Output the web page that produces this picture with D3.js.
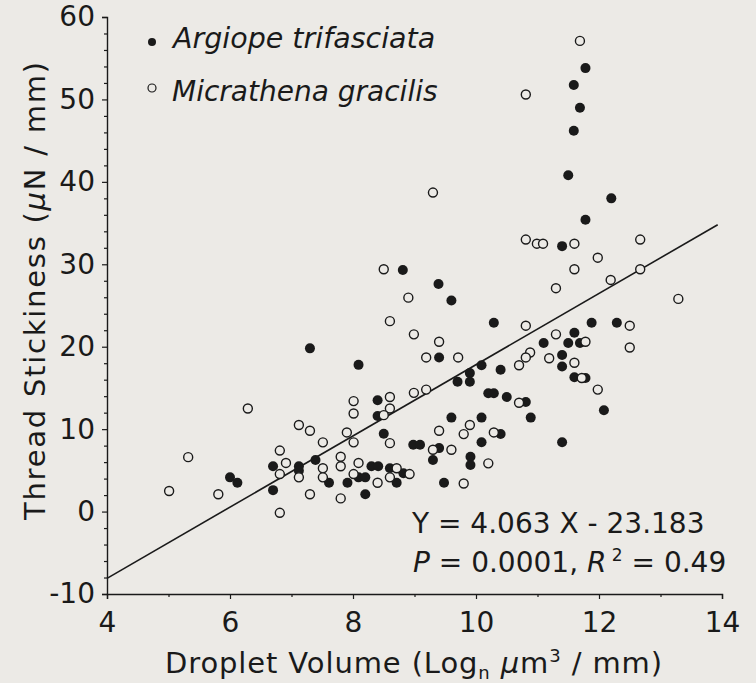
<!DOCTYPE html>
<html>
<head>
<meta charset="utf-8">
<script src="https://cdn.jsdelivr.net/npm/d3@7"></script>
<style>
  html, body { margin: 0; padding: 0; background: #eceae6; }
  svg { display: block; }
  text { font-family: "DejaVu Sans", sans-serif; fill: #1a1a1a; }
</style>
</head>
<body>
<svg id="chart" width="756" height="683"></svg>
<script>
// ---- Data ----
const argiope = [
  [11.78,53.8],[11.59,51.75],[11.69,49.0],[11.59,46.2],[11.50,40.8],[12.20,38.0],[11.78,35.4],
  [9.39,27.6],[9.60,25.6],[11.40,32.2],[8.81,29.3],[10.29,22.9],[11.88,22.9],[12.29,22.9],
  [11.60,21.7],[11.10,20.45],[11.50,20.45],[11.69,20.45],[9.40,18.7],[11.40,19.0],[11.40,17.6],
  [10.09,17.75],[9.90,16.8],[9.90,15.75],[9.70,15.75],[10.40,17.2],[11.60,16.3],[11.78,16.2],
  [12.08,12.3],[10.20,14.35],[10.29,14.35],[10.50,13.9],[10.81,13.3],[9.60,11.4],[10.09,11.4],
  [10.89,11.4],[10.40,9.4],[10.09,8.4],[11.40,8.4],[7.30,19.8],[8.09,17.8],[8.40,13.5],
  [8.40,11.6],[8.50,9.45],[8.98,8.1],[9.09,8.1],[9.40,7.7],[6.00,4.15],[6.12,3.5],[6.70,5.5],
  [6.70,2.6],[7.12,5.5],[7.12,4.95],[7.39,6.25],[7.61,3.5],[7.91,3.5],[8.09,4.15],[8.20,4.15],
  [8.20,2.1],[8.30,5.5],[8.41,5.5],[8.60,5.25],[8.71,3.5],[8.82,4.65],[9.30,6.25],[9.48,3.5],
  [9.91,6.65],[9.91,5.65]
];
const micrathena = [
  [11.69,57.1],[10.81,50.6],[9.30,38.7],[10.81,33.0],[10.99,32.5],[11.09,32.5],[11.60,32.5],
  [12.67,33.0],[11.98,30.8],[11.60,29.4],[12.67,29.4],[12.19,28.1],[11.30,27.1],[13.29,25.8],
  [10.81,22.55],[12.50,22.55],[11.30,21.5],[11.78,20.6],[12.50,19.9],[9.40,20.6],[9.71,18.7],
  [10.88,19.3],[10.81,18.7],[10.70,17.75],[11.19,18.6],[11.60,18.05],[11.72,16.2],[11.98,14.8],
  [10.70,13.2],[9.90,10.5],[9.80,9.4],[9.40,9.8],[10.29,9.6],[9.60,7.5],[8.50,29.4],[8.90,25.95],
  [8.60,23.1],[8.99,21.5],[9.19,18.7],[6.29,12.5],[8.01,13.4],[8.01,11.9],[8.60,13.9],[8.60,12.5],
  [8.50,11.7],[8.99,14.4],[9.19,14.8],[7.12,10.5],[7.30,9.8],[7.51,8.4],[7.90,9.6],[8.01,8.4],
  [8.60,8.3],[9.30,7.5],[6.81,7.4],[5.32,6.6],[5.01,2.5],[5.81,2.1],[6.91,5.9],[6.81,4.55],
  [6.81,-0.15],[7.12,4.15],[7.30,2.1],[7.51,5.25],[7.51,4.15],[7.80,6.65],[7.80,5.5],[7.80,1.6],
  [8.09,5.9],[8.01,4.55],[8.40,3.5],[8.60,4.15],[8.71,5.25],[8.92,4.55],[10.20,5.85],[9.80,3.4]
];
const fitLine = [[4, -8.1], [13.93, 34.8]];
const xMajorTicks = [4, 6, 8, 10, 12, 14];
const xMinorTicks = [5, 7, 9, 11, 13];
const yMajorTicks = [-10, 0, 10, 20, 30, 40, 50, 60];
const yMinorTicks = [-8, -6, -4, -2, 2, 4, 6, 8, 12, 14, 16, 18, 22, 24, 26, 28, 32, 34, 36, 38, 42, 44, 46, 48, 52, 54, 56, 58];
const legendLabels = ["Argiope trifasciata", "Micrathena gracilis"];
const equationText = "Y = 4.063 X - 23.183";

// ---- Chart ----
const BG = "#eceae6";
const INK = "#1a1a1a";
const svg = d3.select("#chart");
svg.append("rect").attr("width", 756).attr("height", 683).attr("fill", BG);

const x = d3.scaleLinear().domain([4, 14]).range([107, 722]);
const y = d3.scaleLinear().domain([-10, 60]).range([594, 17]);

// axes
const gx = svg.append("g").attr("transform", "translate(0,594)");
gx.call(d3.axisBottom(x).tickValues(xMajorTicks).tickSize(5).tickPadding(13).tickFormat(d3.format("d")));
const gxm = svg.append("g").attr("transform", "translate(0,594)");
gxm.call(d3.axisBottom(x).tickValues(xMinorTicks).tickSize(3).tickFormat(""));
gxm.select(".domain").remove();

const gy = svg.append("g").attr("transform", "translate(107,0)");
gy.call(d3.axisLeft(y).tickValues(yMajorTicks).tickSize(5).tickPadding(7).tickFormat(d => d < 0 ? "-" + Math.abs(d) : d));
const gym = svg.append("g").attr("transform", "translate(107,0)");
gym.call(d3.axisLeft(y).tickValues(yMinorTicks).tickSize(3).tickFormat(""));
gym.select(".domain").remove();

svg.selectAll(".domain").attr("stroke", INK).attr("stroke-width", 1.4);
svg.selectAll(".tick line").attr("stroke", INK).attr("stroke-width", 1.2);
svg.selectAll(".tick text").attr("font-size", 28).attr("font-family", "'DejaVu Sans', sans-serif").attr("fill", INK);

// axis titles
const xt = svg.append("text").attr("x", 165).attr("y", 673).attr("font-size", 29)
  .attr("textLength", 497).attr("lengthAdjust", "spacing");
xt.append("tspan").text("Droplet Volume (Log");
xt.append("tspan").attr("font-size", 18).attr("dy", 6).text("n");
xt.append("tspan").attr("dy", -6).text(" ");
xt.append("tspan").attr("font-style", "italic").text("\u00b5");
xt.append("tspan").text("m");
xt.append("tspan").attr("font-size", 18).attr("dy", -11).text("3");
xt.append("tspan").attr("dy", 11).text(" / mm)");

const yt = svg.append("text").attr("transform", "translate(45,520) rotate(-90)").attr("font-size", 29)
  .attr("textLength", 458).attr("lengthAdjust", "spacing");
yt.append("tspan").text("Thread Stickiness (");
yt.append("tspan").attr("font-style", "italic").text("\u00b5");
yt.append("tspan").text("N / mm)");

// regression line
svg.append("line")
  .attr("x1", x(fitLine[0][0])).attr("y1", y(fitLine[0][1]))
  .attr("x2", x(fitLine[1][0])).attr("y2", y(fitLine[1][1]))
  .attr("stroke", INK).attr("stroke-width", 1.6);

// points
svg.append("g").selectAll("circle").data(argiope).join("circle")
  .attr("cx", d => x(d[0])).attr("cy", d => y(d[1])).attr("r", 5)
  .attr("fill", INK);
svg.append("g").selectAll("circle").data(micrathena).join("circle")
  .attr("cx", d => x(d[0])).attr("cy", d => y(d[1])).attr("r", 4.5)
  .attr("fill", BG).attr("stroke", INK).attr("stroke-width", 1.4);

// legend
svg.append("circle").attr("cx", 152).attr("cy", 42).attr("r", 4).attr("fill", INK);
svg.append("circle").attr("cx", 152).attr("cy", 88).attr("r", 4).attr("fill", BG).attr("stroke", INK).attr("stroke-width", 1.2);
svg.append("text").attr("x", 173).attr("y", 48).attr("font-size", 28.5).attr("font-style", "italic").text(legendLabels[0]);
svg.append("text").attr("x", 172).attr("y", 101).attr("font-size", 28).attr("font-style", "italic").text(legendLabels[1]);

// annotation
svg.append("text").attr("x", 412).attr("y", 533).attr("font-size", 28).text(equationText);
const st = svg.append("text").attr("x", 413).attr("y", 572).attr("font-size", 28);
st.append("tspan").attr("font-style", "italic").text("P");
st.append("tspan").text(" = 0.0001, ");
st.append("tspan").attr("font-style", "italic").text("R");
st.append("tspan").attr("font-size", 17).attr("dy", -11).text(" 2");
st.append("tspan").attr("dy", 11).text(" = 0.49");
</script>
</body>
</html>
